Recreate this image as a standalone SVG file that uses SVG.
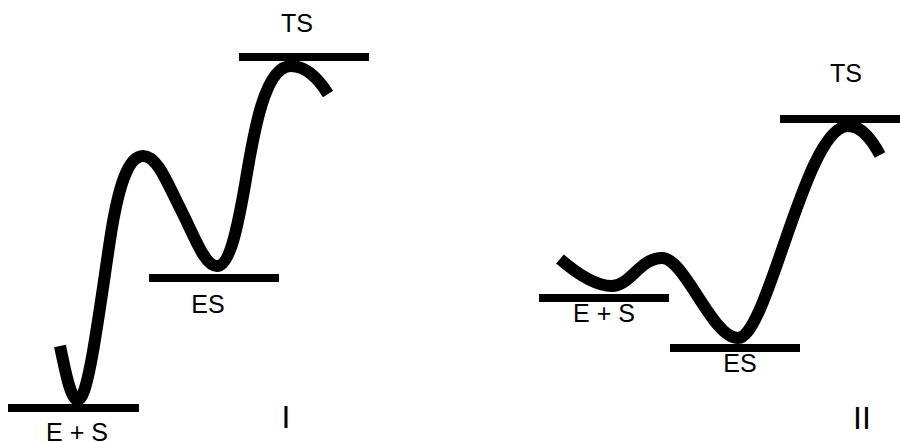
<svg xmlns="http://www.w3.org/2000/svg" width="900" height="442" viewBox="0 0 900 442">
<style>
.lvl{stroke:#000;stroke-width:8;fill:none}
.crv{stroke:#000;stroke-width:12;fill:none;stroke-linecap:butt;stroke-linejoin:round}
.lbl{font-family:"Liberation Sans",Arial,sans-serif;font-size:25px;fill:#000;text-anchor:middle}
.big{font-family:"Liberation Sans",Arial,sans-serif;font-size:32px;fill:#000;text-anchor:middle}
</style>
<rect width="900" height="442" fill="#fff"/>
<g id="connectors">
<path class="crv" d="M60,346 C66,375 71,400 78,400 C88,400 98,320 110,240 C118,187 128,156 143,156 C158,156 168,185 182,212 C196,240 205,266 217,266 C230,266 238,225 245,185 C254,130 265,66 291,66 C305,66 318,78 328,94"/>
<path class="crv" d="M560,259 C575,272 595,286 612,286 C630,286 640,258 662,258 C685,258 712,338 738,338 C768,338 805,126 848,126 C862,126 872,140 880,155"/>
</g>
<g id="diagram-I">
<g id="I-ES-reactants"><line class="lvl" x1="8" y1="408" x2="139" y2="408"/><text class="lbl" x="77" y="441">E + S</text></g>
<g id="I-ES"><line class="lvl" x1="149" y1="278" x2="279" y2="278"/><text class="lbl" x="208" y="313">ES</text></g>
<g id="I-TS"><line class="lvl" x1="239" y1="57" x2="369" y2="57"/><text class="lbl" x="297" y="32">TS</text></g>
<text class="big" x="286" y="428">I</text>
</g>
<g id="diagram-II">
<g id="II-ES-reactants"><line class="lvl" x1="539" y1="298" x2="669" y2="298"/><text class="lbl" x="604" y="322">E + S</text></g>
<g id="II-ES"><line class="lvl" x1="670" y1="348" x2="800" y2="348"/><text class="lbl" x="740" y="372">ES</text></g>
<g id="II-TS"><line class="lvl" x1="780" y1="119" x2="900" y2="119"/><text class="lbl" x="846" y="82">TS</text></g>
<text class="big" x="862" y="429">II</text>
</g>
</svg>
